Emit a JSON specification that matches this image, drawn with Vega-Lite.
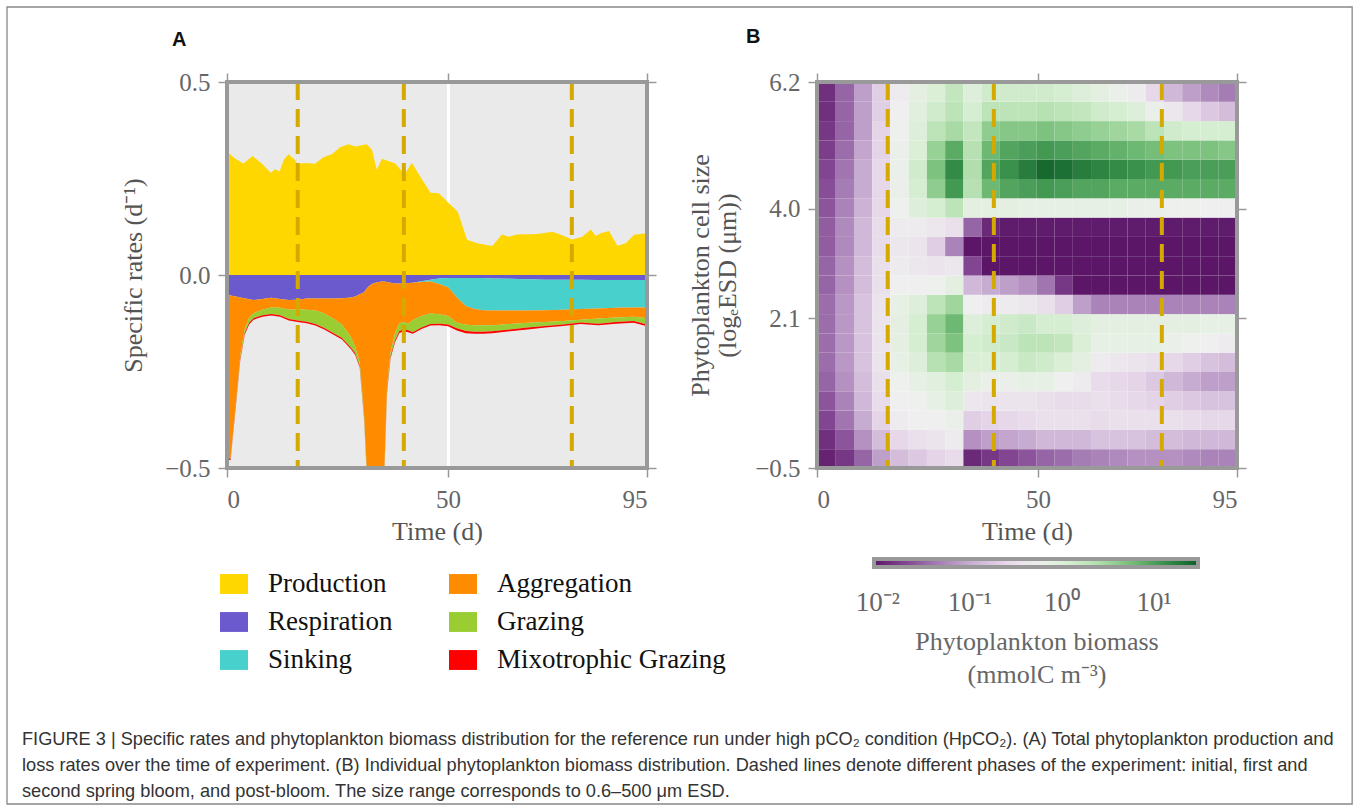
{
"$schema": "https://vega.github.io/schema/vega-lite/v6.json",
"background": "white",
"padding": {"left": 6, "top": 6, "right": 0, "bottom": 0},
"autosize": {"type": "pad"},
"datasets": {
"prod": [
{"t":0,"p":0.320},{"t":1.8,"p":0.302},{"t":3.7,"p":0.289},{"t":5.8,"p":0.308},{"t":7.9,"p":0.288},{"t":9.9,"p":0.265},{"t":10.9,"p":0.274},{"t":11.9,"p":0.268},{"t":12.8,"p":0.298},{"t":13.9,"p":0.313},{"t":15.4,"p":0.298},{"t":15.9,"p":0.288},{"t":17.7,"p":0.290},{"t":19.9,"p":0.288},{"t":21.8,"p":0.305},{"t":23.7,"p":0.313},{"t":25.6,"p":0.331},{"t":27.5,"p":0.339},{"t":29,"p":0.333},{"t":31.6,"p":0.339},{"t":32.8,"p":0.324},{"t":33.9,"p":0.272},{"t":35,"p":0.301},{"t":38.1,"p":0.289},{"t":39.6,"p":0.268},{"t":40.3,"p":0.263},{"t":41.8,"p":0.291},{"t":43.7,"p":0.255},{"t":46,"p":0.213},{"t":47.9,"p":0.212},{"t":50.2,"p":0.186},{"t":52.2,"p":0.164},{"t":54.3,"p":0.091},{"t":56.6,"p":0.082},{"t":60,"p":0.075},{"t":62.2,"p":0.105},{"t":63.7,"p":0.099},{"t":65.6,"p":0.105},{"t":70.2,"p":0.106},{"t":73.6,"p":0.112},{"t":75.5,"p":0.104},{"t":78.1,"p":0.092},{"t":80.4,"p":0.099},{"t":82.3,"p":0.118},{"t":83.4,"p":0.101},{"t":84.5,"p":0.108},{"t":86.4,"p":0.114},{"t":88.3,"p":0.076},{"t":90.2,"p":0.082},{"t":92.1,"p":0.104},{"t":95,"p":0.108}
],
"loss": [
{"t":0,"r":-0.050,"s":-0.050,"a":-0.470,"g":-0.472,"m":-0.477},
{"t":0.8,"r":-0.053,"s":-0.053,"a":-0.475,"g":-0.476,"m":-0.480},
{"t":2,"r":-0.056,"s":-0.056,"a":-0.330,"g":-0.335,"m":-0.340},
{"t":3,"r":-0.058,"s":-0.058,"a":-0.210,"g":-0.216,"m":-0.221},
{"t":4,"r":-0.060,"s":-0.060,"a":-0.140,"g":-0.150,"m":-0.155},
{"t":5,"r":-0.063,"s":-0.063,"a":-0.110,"g":-0.124,"m":-0.128},
{"t":6,"r":-0.065,"s":-0.065,"a":-0.099,"g":-0.112,"m":-0.116},
{"t":8,"r":-0.062,"s":-0.062,"a":-0.090,"g":-0.104,"m":-0.108},
{"t":10,"r":-0.059,"s":-0.059,"a":-0.084,"g":-0.101,"m":-0.105},
{"t":12,"r":-0.062,"s":-0.062,"a":-0.085,"g":-0.104,"m":-0.108},
{"t":14,"r":-0.065,"s":-0.065,"a":-0.090,"g":-0.114,"m":-0.118},
{"t":16,"r":-0.064,"s":-0.064,"a":-0.089,"g":-0.118,"m":-0.122},
{"t":18,"r":-0.061,"s":-0.061,"a":-0.090,"g":-0.121,"m":-0.125},
{"t":20,"r":-0.061,"s":-0.061,"a":-0.092,"g":-0.127,"m":-0.131},
{"t":22,"r":-0.061,"s":-0.061,"a":-0.100,"g":-0.137,"m":-0.141},
{"t":24,"r":-0.061,"s":-0.061,"a":-0.113,"g":-0.150,"m":-0.154},
{"t":26,"r":-0.060,"s":-0.060,"a":-0.128,"g":-0.163,"m":-0.167},
{"t":28,"r":-0.058,"s":-0.058,"a":-0.160,"g":-0.188,"m":-0.192},
{"t":29,"r":-0.056,"s":-0.056,"a":-0.186,"g":-0.203,"m":-0.207},
{"t":30,"r":-0.050,"s":-0.050,"a":-0.225,"g":-0.235,"m":-0.239},
{"t":31,"r":-0.045,"s":-0.045,"a":-0.360,"g":-0.370,"m":-0.374},
{"t":31.6,"r":-0.035,"s":-0.035,"a":-0.500,"g":-0.510,"m":-0.515},
{"t":32.2,"r":-0.028,"s":-0.028,"a":-0.620,"g":-0.630,"m":-0.635},
{"t":33,"r":-0.022,"s":-0.022,"a":-0.620,"g":-0.630,"m":-0.635},
{"t":34,"r":-0.019,"s":-0.019,"a":-0.620,"g":-0.630,"m":-0.635},
{"t":35,"r":-0.017,"s":-0.017,"a":-0.620,"g":-0.630,"m":-0.635},
{"t":35.6,"r":-0.017,"s":-0.017,"a":-0.500,"g":-0.510,"m":-0.515},
{"t":36.2,"r":-0.018,"s":-0.018,"a":-0.290,"g":-0.300,"m":-0.305},
{"t":37,"r":-0.020,"s":-0.020,"a":-0.200,"g":-0.210,"m":-0.215},
{"t":38,"r":-0.022,"s":-0.022,"a":-0.150,"g":-0.170,"m":-0.174},
{"t":39,"r":-0.022,"s":-0.022,"a":-0.125,"g":-0.145,"m":-0.150},
{"t":40,"r":-0.022,"s":-0.022,"a":-0.122,"g":-0.141,"m":-0.146},
{"t":41,"r":-0.021,"s":-0.021,"a":-0.126,"g":-0.143,"m":-0.148},
{"t":42,"r":-0.020,"s":-0.020,"a":-0.117,"g":-0.148,"m":-0.152},
{"t":44,"r":-0.016,"s":-0.018,"a":-0.106,"g":-0.136,"m":-0.140},
{"t":46,"r":-0.012,"s":-0.017,"a":-0.100,"g":-0.127,"m":-0.131},
{"t":48,"r":-0.009,"s":-0.023,"a":-0.102,"g":-0.126,"m":-0.130},
{"t":50,"r":-0.008,"s":-0.032,"a":-0.106,"g":-0.128,"m":-0.133},
{"t":52,"r":-0.008,"s":-0.058,"a":-0.124,"g":-0.138,"m":-0.144},
{"t":54,"r":-0.008,"s":-0.080,"a":-0.129,"g":-0.145,"m":-0.151},
{"t":56,"r":-0.008,"s":-0.088,"a":-0.130,"g":-0.147,"m":-0.152},
{"t":58,"r":-0.008,"s":-0.091,"a":-0.130,"g":-0.147,"m":-0.152},
{"t":60,"r":-0.009,"s":-0.092,"a":-0.130,"g":-0.146,"m":-0.151},
{"t":64,"r":-0.010,"s":-0.092,"a":-0.127,"g":-0.141,"m":-0.146},
{"t":68,"r":-0.011,"s":-0.092,"a":-0.124,"g":-0.136,"m":-0.141},
{"t":72,"r":-0.012,"s":-0.091,"a":-0.122,"g":-0.132,"m":-0.136},
{"t":76,"r":-0.012,"s":-0.090,"a":-0.119,"g":-0.128,"m":-0.132},
{"t":80,"r":-0.012,"s":-0.088,"a":-0.116,"g":-0.123,"m":-0.127},
{"t":84,"r":-0.013,"s":-0.087,"a":-0.113,"g":-0.126,"m":-0.130},
{"t":88,"r":-0.013,"s":-0.085,"a":-0.110,"g":-0.122,"m":-0.126},
{"t":92,"r":-0.013,"s":-0.084,"a":-0.108,"g":-0.119,"m":-0.124},
{"t":95,"r":-0.013,"s":-0.084,"a":-0.112,"g":-0.128,"m":-0.133}
],
"phases": [{"t":16},{"t":40},{"t":78}],
"grid": [
{"t":0,"s":-0.5,"v":-1.95},{"t":0,"s":-0.165,"v":-1.85},{"t":0,"s":0.17,"v":-1.7},{"t":0,"s":0.505,"v":-1.6},{"t":0,"s":0.84,"v":-1.5},{"t":0,"s":1.175,"v":-1.45},{"t":0,"s":1.51,"v":-1.45},{"t":0,"s":1.845,"v":-1.45},{"t":0,"s":2.18,"v":-1.45},{"t":0,"s":2.515,"v":-1.5},{"t":0,"s":2.85,"v":-1.5},{"t":0,"s":3.185,"v":-1.55},{"t":0,"s":3.52,"v":-1.55},{"t":0,"s":3.855,"v":-1.6},{"t":0,"s":4.19,"v":-1.65},{"t":0,"s":4.525,"v":-1.7},{"t":0,"s":4.86,"v":-1.75},{"t":0,"s":5.195,"v":-1.8},{"t":0,"s":5.53,"v":-1.85},{"t":0,"s":5.865,"v":-1.85},
{"t":4.125,"s":-0.5,"v":-1.8},{"t":4.125,"s":-0.165,"v":-1.6},{"t":4.125,"s":0.17,"v":-1.4},{"t":4.125,"s":0.505,"v":-1.3},{"t":4.125,"s":0.84,"v":-1.2},{"t":4.125,"s":1.175,"v":-1.15},{"t":4.125,"s":1.51,"v":-1.15},{"t":4.125,"s":1.845,"v":-1.15},{"t":4.125,"s":2.18,"v":-1.15},{"t":4.125,"s":2.515,"v":-1.2},{"t":4.125,"s":2.85,"v":-1.2},{"t":4.125,"s":3.185,"v":-1.25},{"t":4.125,"s":3.52,"v":-1.25},{"t":4.125,"s":3.855,"v":-1.3},{"t":4.125,"s":4.19,"v":-1.35},{"t":4.125,"s":4.525,"v":-1.4},{"t":4.125,"s":4.86,"v":-1.45},{"t":4.125,"s":5.195,"v":-1.5},{"t":4.125,"s":5.53,"v":-1.5},{"t":4.125,"s":5.865,"v":-1.5},
{"t":8.25,"s":-0.5,"v":-1.5},{"t":8.25,"s":-0.165,"v":-1.2},{"t":8.25,"s":0.17,"v":-1.0},{"t":8.25,"s":0.505,"v":-0.9},{"t":8.25,"s":0.84,"v":-0.85},{"t":8.25,"s":1.175,"v":-0.8},{"t":8.25,"s":1.51,"v":-0.8},{"t":8.25,"s":1.845,"v":-0.8},{"t":8.25,"s":2.18,"v":-0.8},{"t":8.25,"s":2.515,"v":-0.85},{"t":8.25,"s":2.85,"v":-0.85},{"t":8.25,"s":3.185,"v":-0.9},{"t":8.25,"s":3.52,"v":-0.9},{"t":8.25,"s":3.855,"v":-0.95},{"t":8.25,"s":4.19,"v":-1.0},{"t":8.25,"s":4.525,"v":-1.0},{"t":8.25,"s":4.86,"v":-1.05},{"t":8.25,"s":5.195,"v":-1.1},{"t":8.25,"s":5.53,"v":-1.1},{"t":8.25,"s":5.865,"v":-1.1},
{"t":12.375,"s":-0.5,"v":-1.1},{"t":12.375,"s":-0.165,"v":-0.85},{"t":12.375,"s":0.17,"v":-0.65},{"t":12.375,"s":0.505,"v":-0.55},{"t":12.375,"s":0.84,"v":-0.5},{"t":12.375,"s":1.175,"v":-0.45},{"t":12.375,"s":1.51,"v":-0.45},{"t":12.375,"s":1.845,"v":-0.45},{"t":12.375,"s":2.18,"v":-0.45},{"t":12.375,"s":2.515,"v":-0.5},{"t":12.375,"s":2.85,"v":-0.5},{"t":12.375,"s":3.185,"v":-0.55},{"t":12.375,"s":3.52,"v":-0.55},{"t":12.375,"s":3.855,"v":-0.6},{"t":12.375,"s":4.19,"v":-0.6},{"t":12.375,"s":4.525,"v":-0.6},{"t":12.375,"s":4.86,"v":-0.65},{"t":12.375,"s":5.195,"v":-0.65},{"t":12.375,"s":5.53,"v":-0.7},{"t":12.375,"s":5.865,"v":-0.7},
{"t":16.5,"s":-0.5,"v":-0.85},{"t":16.5,"s":-0.165,"v":-0.6},{"t":16.5,"s":0.17,"v":-0.35},{"t":16.5,"s":0.505,"v":-0.3},{"t":16.5,"s":0.84,"v":-0.25},{"t":16.5,"s":1.175,"v":-0.15},{"t":16.5,"s":1.51,"v":-0.1},{"t":16.5,"s":1.845,"v":-0.1},{"t":16.5,"s":2.18,"v":-0.15},{"t":16.5,"s":2.515,"v":-0.3},{"t":16.5,"s":2.85,"v":-0.35},{"t":16.5,"s":3.185,"v":-0.4},{"t":16.5,"s":3.52,"v":-0.35},{"t":16.5,"s":3.855,"v":-0.25},{"t":16.5,"s":4.19,"v":-0.2},{"t":16.5,"s":4.525,"v":-0.2},{"t":16.5,"s":4.86,"v":-0.2},{"t":16.5,"s":5.195,"v":-0.25},{"t":16.5,"s":5.53,"v":-0.3},{"t":16.5,"s":5.865,"v":-0.35},
{"t":20.625,"s":-0.5,"v":-0.75},{"t":20.625,"s":-0.165,"v":-0.5},{"t":20.625,"s":0.17,"v":-0.3},{"t":20.625,"s":0.505,"v":-0.25},{"t":20.625,"s":0.84,"v":-0.15},{"t":20.625,"s":1.175,"v":0},{"t":20.625,"s":1.51,"v":0.1},{"t":20.625,"s":1.845,"v":0.1},{"t":20.625,"s":2.18,"v":0},{"t":20.625,"s":2.515,"v":-0.3},{"t":20.625,"s":2.85,"v":-0.4},{"t":20.625,"s":3.185,"v":-0.45},{"t":20.625,"s":3.52,"v":-0.35},{"t":20.625,"s":3.855,"v":0},{"t":20.625,"s":4.19,"v":0.1},{"t":20.625,"s":4.525,"v":0.15},{"t":20.625,"s":4.86,"v":0.05},{"t":20.625,"s":5.195,"v":0},{"t":20.625,"s":5.53,"v":-0.05},{"t":20.625,"s":5.865,"v":-0.1},
{"t":24.75,"s":-0.5,"v":-0.65},{"t":24.75,"s":-0.165,"v":-0.45},{"t":24.75,"s":0.17,"v":-0.3},{"t":24.75,"s":0.505,"v":-0.15},{"t":24.75,"s":0.84,"v":-0.05},{"t":24.75,"s":1.175,"v":0.35},{"t":24.75,"s":1.51,"v":0.5},{"t":24.75,"s":1.845,"v":0.55},{"t":24.75,"s":2.18,"v":0.3},{"t":24.75,"s":2.515,"v":-0.25},{"t":24.75,"s":2.85,"v":-0.45},{"t":24.75,"s":3.185,"v":-0.7},{"t":24.75,"s":3.52,"v":-0.4},{"t":24.75,"s":3.855,"v":0.1},{"t":24.75,"s":4.19,"v":0.6},{"t":24.75,"s":4.525,"v":0.7},{"t":24.75,"s":4.86,"v":0.55},{"t":24.75,"s":5.195,"v":0.3},{"t":24.75,"s":5.53,"v":0.15},{"t":24.75,"s":5.865,"v":0.05},
{"t":28.875,"s":-0.5,"v":-0.55},{"t":28.875,"s":-0.165,"v":-0.35},{"t":28.875,"s":0.17,"v":-0.2},{"t":28.875,"s":0.505,"v":0},{"t":28.875,"s":0.84,"v":0.1},{"t":28.875,"s":1.175,"v":0.45},{"t":28.875,"s":1.51,"v":0.7},{"t":28.875,"s":1.845,"v":0.8},{"t":28.875,"s":2.18,"v":0.5},{"t":28.875,"s":2.515,"v":-0.1},{"t":28.875,"s":2.85,"v":-0.4},{"t":28.875,"s":3.185,"v":-1.3},{"t":28.875,"s":3.52,"v":-0.5},{"t":28.875,"s":3.855,"v":0.3},{"t":28.875,"s":4.19,"v":1.05},{"t":28.875,"s":4.525,"v":1.15},{"t":28.875,"s":4.86,"v":0.9},{"t":28.875,"s":5.195,"v":0.45},{"t":28.875,"s":5.53,"v":0.3},{"t":28.875,"s":5.865,"v":0.25},
{"t":33,"s":-0.5,"v":-1.9},{"t":33,"s":-0.165,"v":-1.2},{"t":33,"s":0.17,"v":-0.7},{"t":33,"s":0.505,"v":-0.4},{"t":33,"s":0.84,"v":-0.1},{"t":33,"s":1.175,"v":0.05},{"t":33,"s":1.51,"v":0.1},{"t":33,"s":1.845,"v":0},{"t":33,"s":2.18,"v":-0.3},{"t":33,"s":2.515,"v":-0.9},{"t":33,"s":2.85,"v":-1.7},{"t":33,"s":3.185,"v":-2.2},{"t":33,"s":3.52,"v":-1.5},{"t":33,"s":3.855,"v":-0.1},{"t":33,"s":4.19,"v":0.35},{"t":33,"s":4.525,"v":0.4},{"t":33,"s":4.86,"v":0.35},{"t":33,"s":5.195,"v":0.25},{"t":33,"s":5.53,"v":0.1},{"t":33,"s":5.865,"v":0},
{"t":37.125,"s":-0.5,"v":-1.8},{"t":37.125,"s":-0.165,"v":-1.1},{"t":37.125,"s":0.17,"v":-0.65},{"t":37.125,"s":0.505,"v":-0.45},{"t":37.125,"s":0.84,"v":-0.2},{"t":37.125,"s":1.175,"v":0.05},{"t":37.125,"s":1.51,"v":0.15},{"t":37.125,"s":1.845,"v":0.1},{"t":37.125,"s":2.18,"v":-0.35},{"t":37.125,"s":2.515,"v":-1.0},{"t":37.125,"s":2.85,"v":-2.2},{"t":37.125,"s":3.185,"v":-2.3},{"t":37.125,"s":3.52,"v":-1.9},{"t":37.125,"s":3.855,"v":-0.1},{"t":37.125,"s":4.19,"v":0.8},{"t":37.125,"s":4.525,"v":0.95},{"t":37.125,"s":4.86,"v":0.8},{"t":37.125,"s":5.195,"v":0.6},{"t":37.125,"s":5.53,"v":0.3},{"t":37.125,"s":5.865,"v":0.15},
{"t":41.25,"s":-0.5,"v":-1.7},{"t":41.25,"s":-0.165,"v":-1.05},{"t":41.25,"s":0.17,"v":-0.6},{"t":41.25,"s":0.505,"v":-0.45},{"t":41.25,"s":0.84,"v":-0.2},{"t":41.25,"s":1.175,"v":0.1},{"t":41.25,"s":1.51,"v":0.2},{"t":41.25,"s":1.845,"v":0.15},{"t":41.25,"s":2.18,"v":-0.35},{"t":41.25,"s":2.515,"v":-1.1},{"t":41.25,"s":2.85,"v":-2.3},{"t":41.25,"s":3.185,"v":-2.3},{"t":41.25,"s":3.52,"v":-2.0},{"t":41.25,"s":3.855,"v":-0.1},{"t":41.25,"s":4.19,"v":0.95},{"t":41.25,"s":4.525,"v":1.1},{"t":41.25,"s":4.86,"v":0.95},{"t":41.25,"s":5.195,"v":0.65},{"t":41.25,"s":5.53,"v":0.3},{"t":41.25,"s":5.865,"v":0.15},
{"t":45.375,"s":-0.5,"v":-1.6},{"t":45.375,"s":-0.165,"v":-1.0},{"t":45.375,"s":0.17,"v":-0.55},{"t":45.375,"s":0.505,"v":-0.45},{"t":45.375,"s":0.84,"v":-0.15},{"t":45.375,"s":1.175,"v":0.2},{"t":45.375,"s":1.51,"v":0.3},{"t":45.375,"s":1.845,"v":0.2},{"t":45.375,"s":2.18,"v":-0.4},{"t":45.375,"s":2.515,"v":-1.2},{"t":45.375,"s":2.85,"v":-2.3},{"t":45.375,"s":3.185,"v":-2.3},{"t":45.375,"s":3.52,"v":-2.0},{"t":45.375,"s":3.855,"v":-0.15},{"t":45.375,"s":4.19,"v":1.0},{"t":45.375,"s":4.525,"v":1.25},{"t":45.375,"s":4.86,"v":1.0},{"t":45.375,"s":5.195,"v":0.65},{"t":45.375,"s":5.53,"v":0.3},{"t":45.375,"s":5.865,"v":0.15},
{"t":49.5,"s":-0.5,"v":-1.5},{"t":49.5,"s":-0.165,"v":-0.9},{"t":49.5,"s":0.17,"v":-0.5},{"t":49.5,"s":0.505,"v":-0.5},{"t":49.5,"s":0.84,"v":-0.15},{"t":49.5,"s":1.175,"v":0.15},{"t":49.5,"s":1.51,"v":0.3},{"t":49.5,"s":1.845,"v":0.1},{"t":49.5,"s":2.18,"v":-0.5},{"t":49.5,"s":2.515,"v":-1.4},{"t":49.5,"s":2.85,"v":-2.3},{"t":49.5,"s":3.185,"v":-2.3},{"t":49.5,"s":3.52,"v":-2.0},{"t":49.5,"s":3.855,"v":-0.15},{"t":49.5,"s":4.19,"v":1.05},{"t":49.5,"s":4.525,"v":1.4},{"t":49.5,"s":4.86,"v":1.05},{"t":49.5,"s":5.195,"v":0.7},{"t":49.5,"s":5.53,"v":0.35},{"t":49.5,"s":5.865,"v":0.15},
{"t":53.625,"s":-0.5,"v":-1.45},{"t":53.625,"s":-0.165,"v":-0.9},{"t":53.625,"s":0.17,"v":-0.5},{"t":53.625,"s":0.505,"v":-0.55},{"t":53.625,"s":0.84,"v":-0.3},{"t":53.625,"s":1.175,"v":0.05},{"t":53.625,"s":1.51,"v":0.25},{"t":53.625,"s":1.845,"v":0.1},{"t":53.625,"s":2.18,"v":-0.7},{"t":53.625,"s":2.515,"v":-1.8},{"t":53.625,"s":2.85,"v":-2.3},{"t":53.625,"s":3.185,"v":-2.3},{"t":53.625,"s":3.52,"v":-2.0},{"t":53.625,"s":3.855,"v":-0.15},{"t":53.625,"s":4.19,"v":1.0},{"t":53.625,"s":4.525,"v":1.35},{"t":53.625,"s":4.86,"v":1.0},{"t":53.625,"s":5.195,"v":0.65},{"t":53.625,"s":5.53,"v":0.3},{"t":53.625,"s":5.865,"v":0.1},
{"t":57.75,"s":-0.5,"v":-1.35},{"t":57.75,"s":-0.165,"v":-0.9},{"t":57.75,"s":0.17,"v":-0.5},{"t":57.75,"s":0.505,"v":-0.55},{"t":57.75,"s":0.84,"v":-0.35},{"t":57.75,"s":1.175,"v":-0.1},{"t":57.75,"s":1.51,"v":0.05},{"t":57.75,"s":1.845,"v":0},{"t":57.75,"s":2.18,"v":-1.1},{"t":57.75,"s":2.515,"v":-2.3},{"t":57.75,"s":2.85,"v":-2.3},{"t":57.75,"s":3.185,"v":-2.3},{"t":57.75,"s":3.52,"v":-2.0},{"t":57.75,"s":3.855,"v":-0.15},{"t":57.75,"s":4.19,"v":0.95},{"t":57.75,"s":4.525,"v":1.25},{"t":57.75,"s":4.86,"v":0.95},{"t":57.75,"s":5.195,"v":0.6},{"t":57.75,"s":5.53,"v":0.25},{"t":57.75,"s":5.865,"v":0},
{"t":61.875,"s":-0.5,"v":-1.3},{"t":61.875,"s":-0.165,"v":-0.8},{"t":61.875,"s":0.17,"v":-0.55},{"t":61.875,"s":0.505,"v":-0.5},{"t":61.875,"s":0.84,"v":-0.55},{"t":61.875,"s":1.175,"v":-0.35},{"t":61.875,"s":1.51,"v":-0.15},{"t":61.875,"s":1.845,"v":-0.1},{"t":61.875,"s":2.18,"v":-1.3},{"t":61.875,"s":2.515,"v":-2.3},{"t":61.875,"s":2.85,"v":-2.3},{"t":61.875,"s":3.185,"v":-2.3},{"t":61.875,"s":3.52,"v":-2.0},{"t":61.875,"s":3.855,"v":-0.15},{"t":61.875,"s":4.19,"v":0.95},{"t":61.875,"s":4.525,"v":1.2},{"t":61.875,"s":4.86,"v":0.9},{"t":61.875,"s":5.195,"v":0.55},{"t":61.875,"s":5.53,"v":0.15},{"t":61.875,"s":5.865,"v":-0.1},
{"t":66,"s":-0.5,"v":-1.25},{"t":66,"s":-0.165,"v":-0.8},{"t":66,"s":0.17,"v":-0.5},{"t":66,"s":0.505,"v":-0.55},{"t":66,"s":0.84,"v":-0.6},{"t":66,"s":1.175,"v":-0.4},{"t":66,"s":1.51,"v":-0.15},{"t":66,"s":1.845,"v":-0.1},{"t":66,"s":2.18,"v":-1.3},{"t":66,"s":2.515,"v":-2.3},{"t":66,"s":2.85,"v":-2.3},{"t":66,"s":3.185,"v":-2.3},{"t":66,"s":3.52,"v":-2.0},{"t":66,"s":3.855,"v":-0.15},{"t":66,"s":4.19,"v":0.9},{"t":66,"s":4.525,"v":1.15},{"t":66,"s":4.86,"v":0.85},{"t":66,"s":5.195,"v":0.5},{"t":66,"s":5.53,"v":0.1},{"t":66,"s":5.865,"v":-0.2},
{"t":70.125,"s":-0.5,"v":-1.2},{"t":70.125,"s":-0.165,"v":-0.8},{"t":70.125,"s":0.17,"v":-0.5},{"t":70.125,"s":0.505,"v":-0.6},{"t":70.125,"s":0.84,"v":-0.65},{"t":70.125,"s":1.175,"v":-0.45},{"t":70.125,"s":1.51,"v":-0.15},{"t":70.125,"s":1.845,"v":-0.1},{"t":70.125,"s":2.18,"v":-1.3},{"t":70.125,"s":2.515,"v":-2.3},{"t":70.125,"s":2.85,"v":-2.3},{"t":70.125,"s":3.185,"v":-2.3},{"t":70.125,"s":3.52,"v":-2.0},{"t":70.125,"s":3.855,"v":-0.2},{"t":70.125,"s":4.19,"v":0.9},{"t":70.125,"s":4.525,"v":1.1},{"t":70.125,"s":4.86,"v":0.8},{"t":70.125,"s":5.195,"v":0.45},{"t":70.125,"s":5.53,"v":0},{"t":70.125,"s":5.865,"v":-0.35},
{"t":74.25,"s":-0.5,"v":-1.2},{"t":74.25,"s":-0.165,"v":-0.85},{"t":74.25,"s":0.17,"v":-0.5},{"t":74.25,"s":0.505,"v":-0.65},{"t":74.25,"s":0.84,"v":-0.75},{"t":74.25,"s":1.175,"v":-0.5},{"t":74.25,"s":1.51,"v":-0.15},{"t":74.25,"s":1.845,"v":-0.1},{"t":74.25,"s":2.18,"v":-1.3},{"t":74.25,"s":2.515,"v":-2.3},{"t":74.25,"s":2.85,"v":-2.3},{"t":74.25,"s":3.185,"v":-2.3},{"t":74.25,"s":3.52,"v":-2.0},{"t":74.25,"s":3.855,"v":-0.2},{"t":74.25,"s":4.19,"v":0.9},{"t":74.25,"s":4.525,"v":1.05},{"t":74.25,"s":4.86,"v":0.75},{"t":74.25,"s":5.195,"v":0.3},{"t":74.25,"s":5.53,"v":-0.2},{"t":74.25,"s":5.865,"v":-0.6},
{"t":78.375,"s":-0.5,"v":-1.2},{"t":78.375,"s":-0.165,"v":-0.85},{"t":78.375,"s":0.17,"v":-0.5},{"t":78.375,"s":0.505,"v":-0.7},{"t":78.375,"s":0.84,"v":-0.9},{"t":78.375,"s":1.175,"v":-0.6},{"t":78.375,"s":1.51,"v":-0.2},{"t":78.375,"s":1.845,"v":-0.1},{"t":78.375,"s":2.18,"v":-1.3},{"t":78.375,"s":2.515,"v":-2.3},{"t":78.375,"s":2.85,"v":-2.3},{"t":78.375,"s":3.185,"v":-2.3},{"t":78.375,"s":3.52,"v":-2.0},{"t":78.375,"s":3.855,"v":-0.25},{"t":78.375,"s":4.19,"v":0.9},{"t":78.375,"s":4.525,"v":1.05},{"t":78.375,"s":4.86,"v":0.7},{"t":78.375,"s":5.195,"v":0.15},{"t":78.375,"s":5.53,"v":-0.4},{"t":78.375,"s":5.865,"v":-0.9},
{"t":82.5,"s":-0.5,"v":-1.25},{"t":82.5,"s":-0.165,"v":-0.9},{"t":82.5,"s":0.17,"v":-0.55},{"t":82.5,"s":0.505,"v":-0.75},{"t":82.5,"s":0.84,"v":-1.0},{"t":82.5,"s":1.175,"v":-0.7},{"t":82.5,"s":1.51,"v":-0.25},{"t":82.5,"s":1.845,"v":-0.1},{"t":82.5,"s":2.18,"v":-1.3},{"t":82.5,"s":2.515,"v":-2.3},{"t":82.5,"s":2.85,"v":-2.3},{"t":82.5,"s":3.185,"v":-2.3},{"t":82.5,"s":3.52,"v":-2.0},{"t":82.5,"s":3.855,"v":-0.25},{"t":82.5,"s":4.19,"v":0.9},{"t":82.5,"s":4.525,"v":1.0},{"t":82.5,"s":4.86,"v":0.7},{"t":82.5,"s":5.195,"v":0.1},{"t":82.5,"s":5.53,"v":-0.6},{"t":82.5,"s":5.865,"v":-1.1},
{"t":86.625,"s":-0.5,"v":-1.3},{"t":86.625,"s":-0.165,"v":-0.9},{"t":86.625,"s":0.17,"v":-0.6},{"t":86.625,"s":0.505,"v":-0.8},{"t":86.625,"s":0.84,"v":-1.1},{"t":86.625,"s":1.175,"v":-0.8},{"t":86.625,"s":1.51,"v":-0.3},{"t":86.625,"s":1.845,"v":-0.15},{"t":86.625,"s":2.18,"v":-1.3},{"t":86.625,"s":2.515,"v":-2.3},{"t":86.625,"s":2.85,"v":-2.3},{"t":86.625,"s":3.185,"v":-2.3},{"t":86.625,"s":3.52,"v":-2.0},{"t":86.625,"s":3.855,"v":-0.3},{"t":86.625,"s":4.19,"v":0.9},{"t":86.625,"s":4.525,"v":1.0},{"t":86.625,"s":4.86,"v":0.7},{"t":86.625,"s":5.195,"v":0.1},{"t":86.625,"s":5.53,"v":-0.75},{"t":86.625,"s":5.865,"v":-1.25},
{"t":90.75,"s":-0.5,"v":-1.3},{"t":90.75,"s":-0.165,"v":-0.9},{"t":90.75,"s":0.17,"v":-0.6},{"t":90.75,"s":0.505,"v":-0.8},{"t":90.75,"s":0.84,"v":-1.1},{"t":90.75,"s":1.175,"v":-0.85},{"t":90.75,"s":1.51,"v":-0.35},{"t":90.75,"s":1.845,"v":-0.15},{"t":90.75,"s":2.18,"v":-1.3},{"t":90.75,"s":2.515,"v":-2.3},{"t":90.75,"s":2.85,"v":-2.3},{"t":90.75,"s":3.185,"v":-2.3},{"t":90.75,"s":3.52,"v":-2.0},{"t":90.75,"s":3.855,"v":-0.3},{"t":90.75,"s":4.19,"v":0.9},{"t":90.75,"s":4.525,"v":1.0},{"t":90.75,"s":4.86,"v":0.65},{"t":90.75,"s":5.195,"v":0.1},{"t":90.75,"s":5.53,"v":-0.85},{"t":90.75,"s":5.865,"v":-1.35}
]
},
"title": {
"text": ["FIGURE 3 | Specific rates and phytoplankton biomass distribution for the reference run under high pCO₂ condition (HpCO₂). (A) Total phytoplankton production and", "loss rates over the time of experiment. (B) Individual phytoplankton biomass distribution. Dashed lines denote different phases of the experiment: initial, first and", "second spring bloom, and post-bloom. The size range corresponds to 0.6–500 μm ESD."],
"orient": "bottom", "anchor": "start", "frame": "group", "dx": -205, "offset": -74,
"font": "Liberation Sans Narrow, Liberation Sans, sans-serif", "fontSize": 18.2, "fontWeight": "normal", "color": "#333", "lineHeight": 26, "baseline": "top"
},
"hconcat": [
{
"width": 420, "height": 386,
"view": {"fill": "#eaeaea", "stroke": null},
"title": {"text": "A", "anchor": "start", "frame": "group", "dx": -55, "offset": -44, "font": "Liberation Sans", "fontSize": 20, "fontWeight": "bold", "color": "#111"},
"layer": [
{
"data": {"name": "prod"},
"mark": {"type": "area", "clip": true, "opacity": 1},
"encoding": {
"x": {"field": "t", "type": "quantitative", "scale": {"domain": [0, 95], "nice": false, "zero": false}, "axis": {"orient": "bottom", "values": [0, 50, 95], "format": "d", "title": "Time (d)", "grid": true, "gridColor": "white", "gridWidth": 3, "labelPadding": 10, "titlePadding": 6}},
"y": {"field": "p", "type": "quantitative", "scale": {"domain": [-0.5, 0.5], "nice": false}, "axis": {"orient": "left", "values": [-0.5, 0, 0.5], "format": ".1f", "title": "Specific rates (d⁻¹)", "grid": true, "gridColor": "white", "gridWidth": 3, "titlePadding": 18}},
"y2": {"datum": 0},
"color": {"datum": "Production", "type": "nominal",
"scale": {"domain": ["Production", "Respiration", "Sinking", "Aggregation", "Grazing", "Mixotrophic Grazing"], "range": ["#ffd700", "#6a5acd", "#48d1cc", "#ff8c00", "#9acd32", "#ff0000"]},
"legend": {"orient": "none", "legendX": -7, "legendY": 488, "direction": "vertical", "columns": 2, "columnPadding": 56, "rowPadding": 11, "symbolType": "M-1,-0.71L1,-0.71L1,0.71L-1,0.71Z", "symbolSize": 784, "symbolStrokeWidth": 0, "symbolOpacity": 1, "labelFont": "Liberation Serif", "labelFontSize": 27, "labelColor": "#111", "labelOffset": 20, "labelLimit": 400, "title": null, "padding": 0}}
}
},
{
"data": {"name": "loss"},
"mark": {"type": "area", "clip": true, "opacity": 1},
"encoding": {"x": {"field": "t", "type": "quantitative", "axis": null}, "y": {"field": "r", "type": "quantitative", "axis": null}, "y2": {"datum": 0}, "color": {"datum": "Respiration", "type": "nominal"}}
},
{
"data": {"name": "loss"},
"mark": {"type": "area", "clip": true, "opacity": 1},
"encoding": {"x": {"field": "t", "type": "quantitative", "axis": null}, "y": {"field": "s", "type": "quantitative", "axis": null}, "y2": {"field": "r"}, "color": {"datum": "Sinking", "type": "nominal"}}
},
{
"data": {"name": "loss"},
"mark": {"type": "area", "clip": true, "opacity": 1},
"encoding": {"x": {"field": "t", "type": "quantitative", "axis": null}, "y": {"field": "a", "type": "quantitative", "axis": null}, "y2": {"field": "s"}, "color": {"datum": "Aggregation", "type": "nominal"}}
},
{
"data": {"name": "loss"},
"mark": {"type": "area", "clip": true, "opacity": 1},
"encoding": {"x": {"field": "t", "type": "quantitative", "axis": null}, "y": {"field": "g", "type": "quantitative", "axis": null}, "y2": {"field": "a"}, "color": {"datum": "Grazing", "type": "nominal"}}
},
{
"data": {"name": "loss"},
"mark": {"type": "area", "clip": true, "opacity": 1},
"encoding": {"x": {"field": "t", "type": "quantitative", "axis": null}, "y": {"field": "m", "type": "quantitative", "axis": null}, "y2": {"field": "g"}, "color": {"datum": "Mixotrophic Grazing", "type": "nominal"}}
},
{
"data": {"name": "phases"},
"mark": {"type": "rule", "color": "#d4aa00", "strokeWidth": 4, "strokeDash": [18, 9], "clip": true},
"encoding": {"x": {"field": "t", "type": "quantitative", "axis": null}}
},
{
"data": {"values": [{}]},
"mark": {"type": "rect", "fill": null, "stroke": "#999999", "strokeWidth": 4},
"encoding": {
"x": {"datum": 0, "axis": {"orient": "top", "values": [0, 50, 95], "labels": false, "title": null, "grid": false}},
"x2": {"datum": 95},
"y": {"datum": -0.5, "axis": {"orient": "right", "values": [-0.5, 0, 0.5], "labels": false, "title": null, "grid": false}},
"y2": {"datum": 0.5}
}
},
{
"data": {"values": [{}]},
"mark": {"type": "rect", "fill": null, "stroke": "#888888", "strokeWidth": 1.3, "clip": false},
"encoding": {
"x": {"datum": -49.76, "axis": null},
"x2": {"datum": 254.5},
"y": {"datum": 0.6943, "axis": null},
"y2": {"datum": -1.3705}
}
}
],
"resolve": {"axis": {"x": "independent", "y": "independent"}}
},
{
"width": 420, "height": 386,
"view": {"stroke": null},
"title": {"text": "B", "anchor": "start", "frame": "group", "dx": -71, "offset": 23, "font": "Liberation Sans", "fontSize": 20, "fontWeight": "bold", "color": "#111"},
"layer": [
{
"data": {"name": "grid"},
"mark": {"type": "rect", "clip": true},
"encoding": {
"x": {"field": "t", "type": "quantitative", "bin": {"binned": true, "step": 4.125}, "scale": {"domain": [0, 95], "nice": false, "zero": false}, "axis": {"orient": "bottom", "values": [0, 50, 95], "format": "d", "title": "Time (d)", "grid": false, "labelPadding": 10, "titlePadding": 6}},
"y": {"field": "s", "type": "quantitative", "bin": {"binned": true, "step": 0.335}, "scale": {"domain": [-0.5, 6.2], "nice": false, "zero": false}, "axis": {"orient": "left", "values": [-0.5, 2.1, 4.0, 6.2], "format": ".1f", "title": ["Phytoplankton cell size", "(logₑESD (μm))"], "titleLineHeight": 27, "grid": false, "titlePadding": 14}},
"color": {"field": "v", "type": "quantitative", "scale": {"type": "linear", "domain": [-2.04, 1.477], "scheme": "purplegreen", "clamp": true},
"legend": {"type": "gradient", "orient": "none", "legendX": 57, "legendY": 477, "direction": "horizontal", "gradientLength": 324, "gradientThickness": 8, "gradientStrokeColor": "#999999", "gradientStrokeWidth": 4, "values": [-2, -1, 0, 1], "labelExpr": "datum.value == -2 ? '10⁻²' : datum.value == -1 ? '10⁻¹' : datum.value == 0 ? '10⁰' : '10¹'", "labelFont": "Liberation Serif", "labelFontSize": 27, "labelColor": "#666666", "labelOffset": 23, "labelAlign": "center", "labelOverlap": false, "title": ["Phytoplankton  biomass", "(mmolC m⁻³)"], "titleLimit": 600, "titleOrient": "bottom", "titleAnchor": "middle", "titleAlign": "center", "titleFont": "Liberation Serif", "titleFontSize": 26, "titleFontWeight": "normal", "titleColor": "#666666", "titleLineHeight": 33, "titlePadding": 13, "padding": 0}}
}
},
{
"data": {"name": "phases"},
"mark": {"type": "rule", "color": "#d4aa00", "strokeWidth": 4, "strokeDash": [18, 9], "clip": true},
"encoding": {"x": {"field": "t", "type": "quantitative", "axis": null}}
},
{
"data": {"values": [{}]},
"mark": {"type": "rect", "fill": null, "stroke": "#999999", "strokeWidth": 4},
"encoding": {
"x": {"datum": 0, "axis": {"orient": "top", "values": [0, 50, 95], "labels": false, "title": null, "grid": false}},
"x2": {"datum": 95},
"y": {"datum": -0.5, "axis": {"orient": "right", "values": [-0.5, 2.1, 4.0, 6.2], "labels": false, "title": null, "grid": false}},
"y2": {"datum": 6.2}
}
}
],
"resolve": {"axis": {"x": "independent", "y": "independent"}}
}
],
"spacing": 170,
"bounds": "flush",
"resolve": {"scale": {"color": "independent"}, "legend": {"color": "independent"}},
"config": {
"font": "Liberation Serif",
"view": {"stroke": null},
"axis": {"labelFont": "Liberation Serif", "labelFontSize": 25, "labelColor": "#666666", "titleFont": "Liberation Serif", "titleFontSize": 26, "titleFontWeight": "normal", "titleColor": "#555555", "tickColor": "#999999", "tickSize": 9, "tickWidth": 1.5, "domain": false, "grid": false, "labelPadding": 8}
}
}
